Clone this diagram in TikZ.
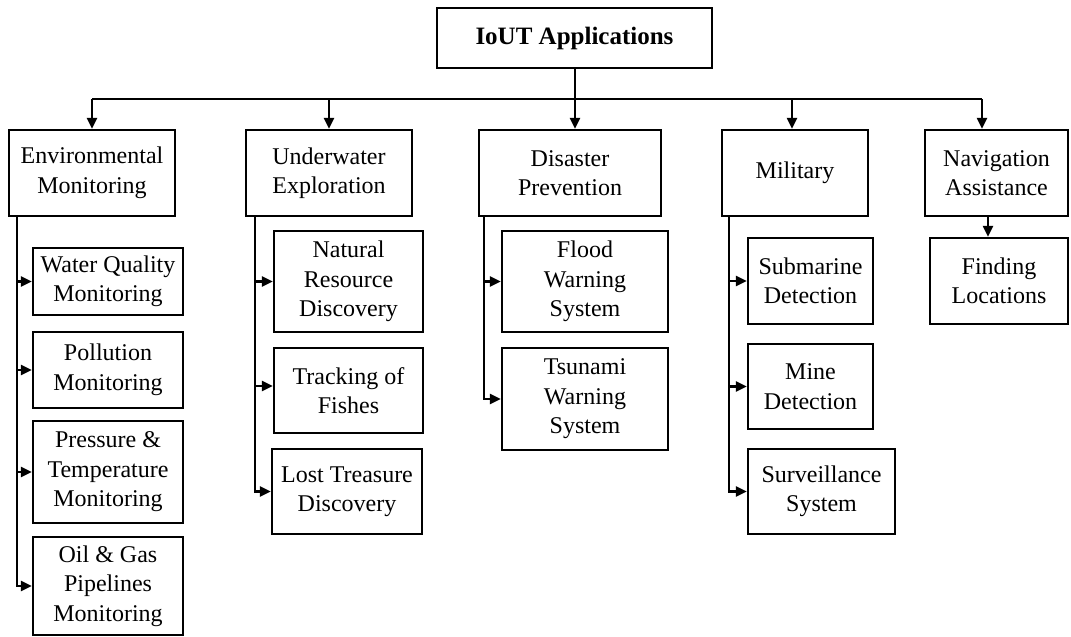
\documentclass[tikz,border=0pt]{standalone}
\usepackage{fontspec}
\setmainfont{Liberation Serif}
\usetikzlibrary{arrows.meta}
\begin{document}
\begin{tikzpicture}[x=1pt,y=-1pt,
  box/.style={draw, line width=2.3pt, inner sep=0pt, align=center,
    font=\fontsize{24}{29.5}\selectfont},
  arr/.style={line width=2.2pt, -{Triangle[length=11pt,width=10pt]}},
  ln/.style={line width=2.2pt}]
\useasboundingbox (0,0) rectangle (1071,637);
% root
\node[box, minimum width=275pt, minimum height=60pt, font=\fontsize{25}{30}\selectfont\bfseries] (root) at (574.5,38) {IoUT Applications};
% level 1
\node[box, minimum width=166pt, minimum height=86pt] (env) at (92,173) {Environmental\\Monitoring};
\node[box, minimum width=166pt, minimum height=86pt] (und) at (329,173) {Underwater\\Exploration};
\node[box, minimum width=182pt, minimum height=86pt] (dis) at (570,173) {Disaster\\Prevention};
\node[box, minimum width=146pt, minimum height=86pt] (mil) at (795,173) {Military};
\node[box, minimum width=143pt, minimum height=86pt] (nav) at (996.5,173) {Navigation\\Assistance};
% env children
\node[box, minimum width=150pt, minimum height=67pt] (wq) at (108,281.5) {Water Quality\\Monitoring};
\node[box, minimum width=150pt, minimum height=76pt] (pol) at (108,370) {Pollution\\Monitoring};
\node[box, minimum width=150pt, minimum height=102pt] (pre) at (108,472) {Pressure \&\\Temperature\\Monitoring};
\node[box, minimum width=150pt, minimum height=98pt] (oil) at (108,586) {Oil \& Gas\\Pipelines\\Monitoring};
% underwater children
\node[box, minimum width=149pt, minimum height=101pt] (nat) at (348.5,281.5) {Natural\\Resource\\Discovery};
\node[box, minimum width=149pt, minimum height=85pt] (trk) at (348.5,390.5) {Tracking of\\Fishes};
\node[box, minimum width=150pt, minimum height=85pt] (lost) at (347,491.5) {Lost Treasure\\Discovery};
% disaster children
\node[box, minimum width=166pt, minimum height=101pt] (fld) at (585,281.5) {Flood\\Warning\\System};
\node[box, minimum width=166pt, minimum height=102pt] (tsu) at (585,399) {Tsunami\\Warning\\System};
% military children
\node[box, minimum width=125pt, minimum height=86pt] (sub) at (810.5,281) {Submarine\\Detection};
\node[box, minimum width=125pt, minimum height=85pt] (mine) at (810.5,386.5) {Mine\\Detection};
\node[box, minimum width=147pt, minimum height=85pt] (sur) at (821.5,491.5) {Surveillance\\System};
% navigation child
\node[box, minimum width=138pt, minimum height=86pt] (fin) at (999,281) {Finding\\Locations};
% bus
\coordinate (busL) at (92,99);
\coordinate (busR) at (982,99);
\coordinate (busM) at (575,99);
\coordinate (busMil) at (792,99);
\draw[ln] (busL) -- (busR);
\draw[ln] (root.south -| busM) -- (busM);
\draw[arr] (busL) -- (busL |- env.north);
\draw[arr] (und.north |- busL) -- (und.north);
\draw[arr] (busM) -- (busM |- dis.north);
\draw[arr] (busMil) -- (busMil |- mil.north);
\draw[arr] (busR) -- (busR |- nav.north);
% env rail
\coordinate (er) at (17,216);
\draw[arr] (er) |- (oil.west);
\draw[arr] (er |- wq.west) -- (wq.west);
\draw[arr] (er |- pol.west) -- (pol.west);
\draw[arr] (er |- pre.west) -- (pre.west);
% underwater rail
\coordinate (ur) at (255,216);
\coordinate (trkA) at (255,386);
\draw[arr] (ur) |- (lost.west);
\draw[arr] (ur |- nat.west) -- (nat.west);
\draw[arr] (trkA) -- (trkA -| trk.west);
% disaster rail
\coordinate (dr) at (484,216);
\draw[arr] (dr) |- (tsu.west);
\draw[arr] (dr |- fld.west) -- (fld.west);
% military rail
\coordinate (mr) at (729,216);
\draw[arr] (mr) |- (sur.west);
\draw[arr] (mr |- sub.west) -- (sub.west);
\draw[arr] (mr |- mine.west) -- (mine.west);
% navigation
\coordinate (nr) at (988,216);
\draw[arr] (nr) -- (nr |- fin.north);
\end{tikzpicture}
\end{document}
